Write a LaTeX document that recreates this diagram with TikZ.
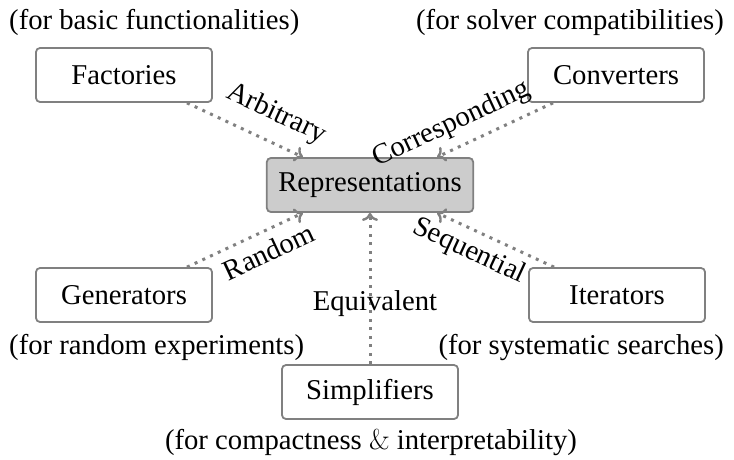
\documentclass[tikz,border=0pt]{standalone}
\usepackage{fontspec}
\setmainfont{Liberation Serif}
\newfontfamily\lmfont{Latin Modern Roman}
\usetikzlibrary{arrows.meta,calc}
\definecolor{boxgray}{RGB}{128,128,128}
\definecolor{linegray}{RGB}{128,128,128}
\definecolor{repfill}{RGB}{204,204,204}
\begin{document}
\begin{tikzpicture}[x=1pt,y=-1pt,
  font=\fontsize{28.7}{34}\selectfont,
  box/.style={draw=boxgray, line width=1.8pt, rounded corners=4pt,
    minimum width=176pt, minimum height=54pt, inner sep=0pt},
  conn/.style={draw=linegray, line width=3pt, dash pattern=on 3pt off 5.5pt,
    -{Computer Modern Rightarrow[length=8pt,width=16pt,line width=2.4pt]}},
  lab/.style={inner sep=0pt}]
\useasboundingbox (0,0) rectangle (734,459);
\node[box] (fac) at (124,75) {Factories};
\node[box] (conv) at (616,75) {Converters};
\node[box, fill=repfill, inner xsep=11.5pt] (rep) at (370,185) {Representations};
\node[box] (gen) at (124,295) {Generators};
\node[box] (iter) at (617,295) {Iterators};
\node[box] (simp) at (370,392) {Simplifiers};

\draw[conn] ($(fac.south)+(63,0)$) -- node[lab, sloped, pos=0.67, above=13pt]{Arbitrary} ($(rep.north)+(-67,0)$);
\draw[conn] ($(conv.south)+(-63,0)$) -- node[lab, sloped, pos=0.79, above=9pt]{Corresponding} ($(rep.north)+(67,0)$);
\draw[conn] ($(gen.north)+(63,0)$) -- node[lab, sloped, pos=0.63, below=9pt]{Random} ($(rep.south)+(-67,0)$);
\draw[conn] ($(iter.north)+(-63,0)$) -- node[lab, sloped, pos=0.65, below=7pt]{Sequential} ($(rep.south)+(67,0)$);
\draw[conn] (simp.north) -- node[lab, pos=0.40, xshift=5pt]{Equivalent} (rep.south);

\node[lab, anchor=base west] (d1) at (9,29) {(for basic functionalities)};
\node[lab, anchor=base east] (d2) at (724,29) {(for solver compatibilities)};
\node[lab, anchor=base west] (d3) at (9,354) {(for random experiments)};
\node[lab, anchor=base east] (d4) at (724,354) {(for systematic searches)};
\node[lab, anchor=base] (d5) at (371,449) {(for compactness {\lmfont\&} interpretability)};
\end{tikzpicture}
\end{document}
